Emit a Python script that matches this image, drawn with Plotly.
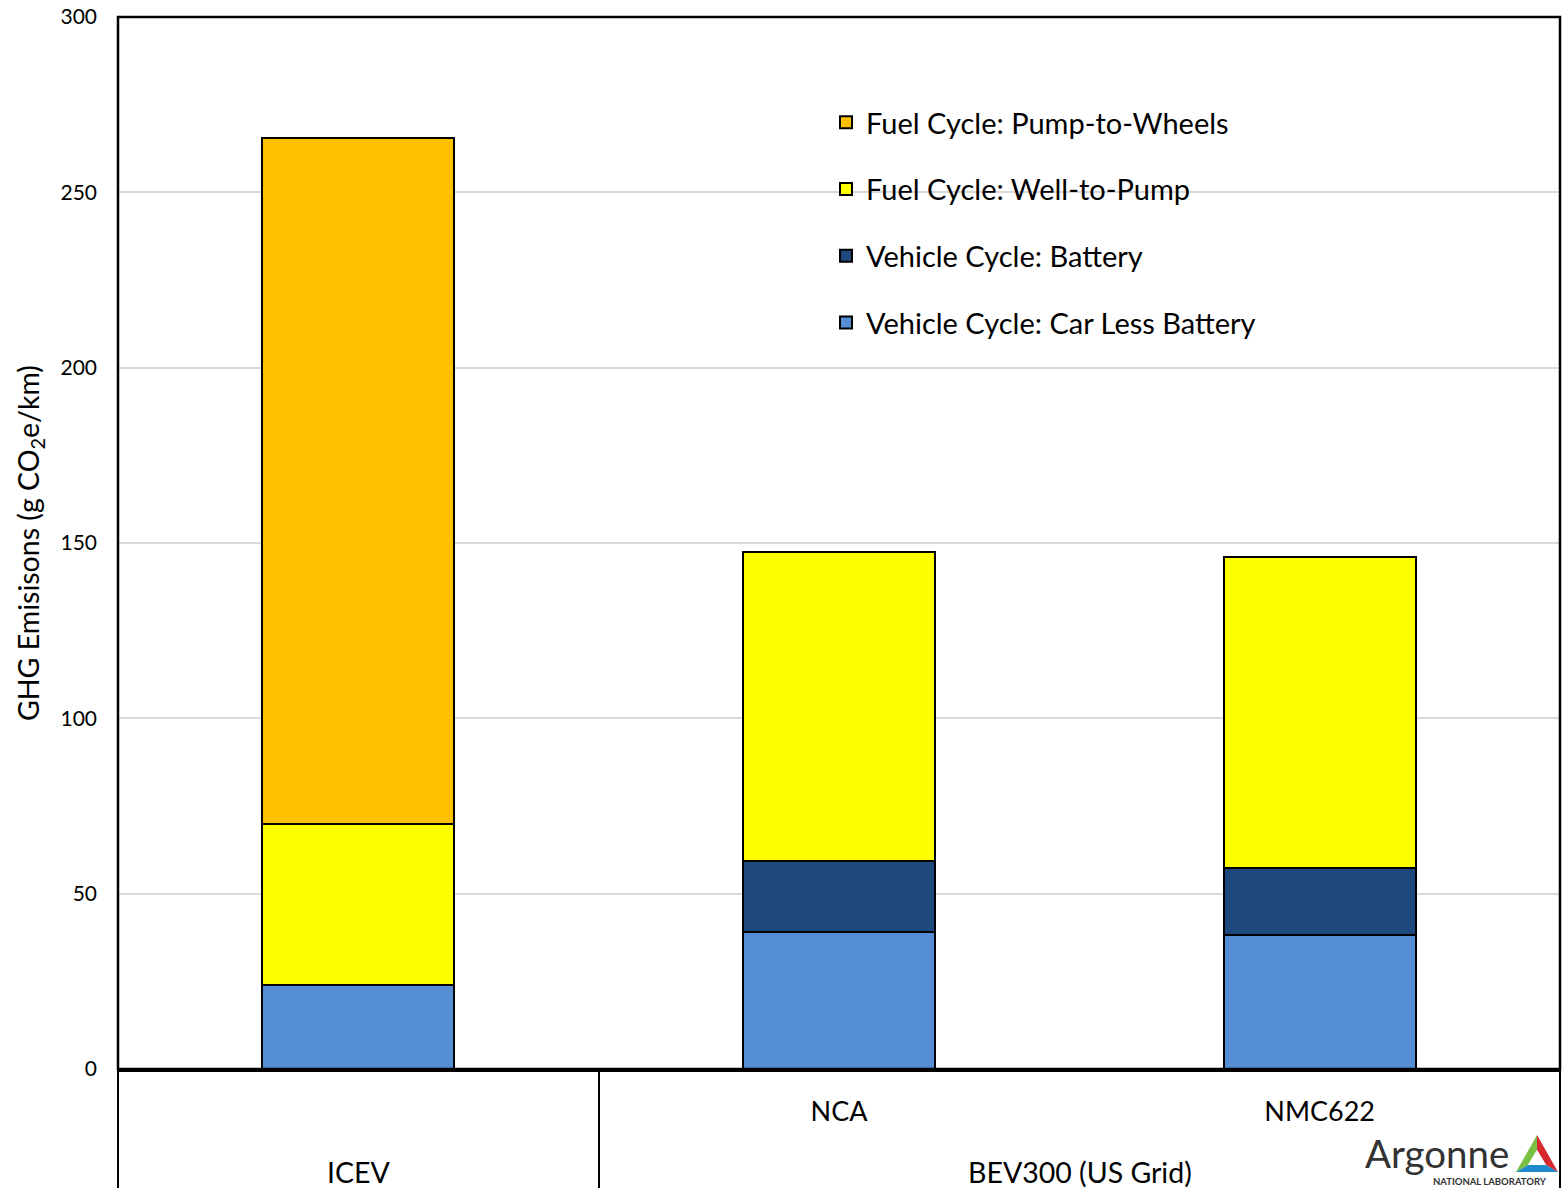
import plotly.graph_objects as go

# Life-cycle GHG emissions per km, stacked by stage
categories = ["ICEV", "NCA", "NMC622"]
tick_labels = ["NCA", "NMC622"]
group_labels = ["ICEV", "BEV300 (US Grid)"]

car_less_battery = [24.0, 39.1, 38.2]
battery = [0.0, 20.2, 19.1]
well_to_pump = [46.0, 88.1, 88.7]
pump_to_wheels = [195.5, 0.0, 0.0]

# (name, values, colour, legend rank) — bottom of the stack first
series = [
    ("Vehicle Cycle: Car Less Battery", car_less_battery, "#558ED5", 4),
    ("Vehicle Cycle: Battery", battery, "#1F497D", 3),
    ("Fuel Cycle: Well-to-Pump", well_to_pump, "#FFFF00", 2),
    ("Fuel Cycle: Pump-to-Wheels", pump_to_wheels, "#FFC000", 1),
]

FONT = "Lato, Carlito, Calibri, sans-serif"

fig = go.Figure()
for i, (name, vals, color, rank) in enumerate(series):
    fig.add_trace(go.Bar(
        x=categories, y=vals, name=name, width=0.4,
        legendgroup=f"g{i}", legendrank=rank,
        marker=dict(color=color, line=dict(color="black", width=2)),
    ))

W, H = 1567, 1188
L, R, T, B = 118, 7, 17, 119
pw, ph = W - L - R, H - T - B


def px(x):
    return (x - L) / pw


def py(y):
    return (H - B - y) / ph


shapes = [
    # frame of the plot area
    dict(type="rect", xref="paper", yref="paper", x0=0, x1=1, y0=0, y1=1,
         line=dict(color="black", width=2.5), layer="above"),
    # category table lines under the axis
    dict(type="line", xref="paper", yref="paper", x0=0, x1=0, y0=0, y1=py(H),
         line=dict(color="black", width=2)),
    dict(type="line", xref="paper", yref="paper", x0=px(599), x1=px(599), y0=0, y1=py(H),
         line=dict(color="black", width=2)),
    dict(type="line", xref="paper", yref="paper", x0=1, x1=1, y0=0, y1=py(H),
         line=dict(color="black", width=2)),
]


# Argonne triangle mark
def path(pts):
    return "M " + " L ".join(f"{px(a)},{py(b)}" for a, b in pts) + " Z"


top, bl, br = (1537, 1135), (1516, 1172), (1558, 1172)
it, ibl, ibr = (1537, 1150), (1528, 1165), (1546, 1165)
for pts, col in [
    ([top, bl, ibl, it], "#7AC143"),
    ([top, it, ibr, br], "#D7282F"),
    ([bl, br, ibr, ibl], "#1F8ACB"),
    ([it, ibl, ibr], "white"),
]:
    shapes.append(dict(type="path", xref="paper", yref="paper", path=path(pts),
                       fillcolor=col, line=dict(width=0)))


def label(text, x, y, size, color="black"):
    return dict(text=text, x=px(x), y=py(y), xref="paper", yref="paper",
                xanchor="center", yanchor="middle", showarrow=False,
                font=dict(size=size, color=color, family=FONT))


annotations = [
    label(group_labels[0], 358.5, 1172, 28.5),
    label(group_labels[1], 1079.5, 1172, 28.5),
    label("Argonne", 1437, 1153, 38.5, "#333333"),
    label("<b>NATIONAL LABORATORY</b>", 1490, 1181, 9.5, "#333333"),
]

fig.update_layout(
    width=W, height=H,
    margin=dict(l=L, r=R, t=T, b=B, autoexpand=False),
    paper_bgcolor="white", plot_bgcolor="white",
    barmode="stack",
    font=dict(family=FONT, color="black"),
    showlegend=True,
    legend=dict(
        x=px(826), y=py(97), xanchor="left", yanchor="top",
        traceorder="grouped", tracegroupgap=26,
        font=dict(size=29, family=FONT, color="black"),
        bgcolor="rgba(0,0,0,0)",
    ),
    xaxis=dict(
        type="category", range=[-0.5, 2.5], automargin=False,
        tickmode="array", tickvals=tick_labels, ticktext=tick_labels,
        tickfont=dict(size=27), ticks="", ticklen=0, ticklabelstandoff=17,
        showline=True, linecolor="black", linewidth=2.5, showgrid=False,
    ),
    yaxis=dict(
        range=[0, 300], dtick=50, tickfont=dict(size=21), automargin=False,
        showgrid=True, gridcolor="#D9D9D9", gridwidth=2,
        zeroline=False, showline=False, ticks="", ticklabelstandoff=20,
        title=dict(text="GHG Emisisons (g CO<sub>2</sub>e/km)", font=dict(size=28.5), standoff=12),
    ),
    shapes=shapes,
    annotations=annotations,
)

fig.write_html("out.html")
